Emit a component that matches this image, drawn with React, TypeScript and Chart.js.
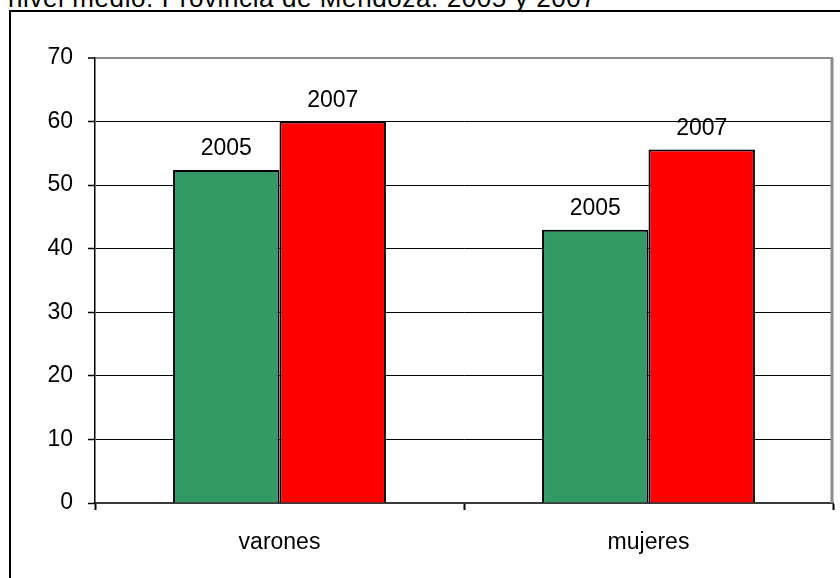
import React, { useEffect, useRef } from "react";
import { Chart, registerables } from "chart.js";

Chart.register(...registerables);

const categories = ["varones", "mujeres"];
const seriesLabels = ["2005", "2007"];
const values2005 = [52.4, 43.0];
const values2007 = [60.0, 55.6];
const yTicks = [0, 10, 20, 30, 40, 50, 60, 70];
const titleText = "nivel medio. Provincia de Mendoza. 2005 y 2007";

const FONT = '"Liberation Sans", Arial, sans-serif';

const barLabelPlugin = {
  id: "barLabels",
  afterDatasetsDraw(chart: any) {
    const ctx = chart.ctx;
    ctx.save();
    ctx.font = `23px ${FONT}`;
    ctx.fillStyle = "#000";
    ctx.textAlign = "center";
    ctx.textBaseline = "alphabetic";
    chart.data.datasets.forEach((ds: any, i: number) => {
      const meta = chart.getDatasetMeta(i);
      meta.data.forEach((bar: any) => {
        ctx.fillText(ds.label, bar.x, bar.y - 14.5);
      });
    });
    ctx.restore();
  },
};

const plotBorderPlugin = {
  id: "plotBorder",
  afterDraw(chart: any) {
    const { ctx, chartArea } = chart;
    ctx.save();
    ctx.strokeStyle = "#8c8c8c";
    ctx.lineWidth = 3;
    ctx.beginPath();
    ctx.moveTo(chartArea.right - 1, chartArea.top);
    ctx.lineTo(chartArea.right - 1, chartArea.bottom);
    ctx.stroke();
    ctx.restore();
  },
};

export default function App() {
  const ref = useRef<HTMLCanvasElement>(null);

  useEffect(() => {
    if (!ref.current) return;
    const chart = new Chart(ref.current, {
      type: "bar",
      data: {
        labels: categories,
        datasets: [
          {
            label: seriesLabels[0],
            data: values2005,
            backgroundColor: "#339966",
            borderColor: "#000",
            borderWidth: 2,
            categoryPercentage: 0.577,
            barPercentage: 1,
          },
          {
            label: seriesLabels[1],
            data: values2007,
            backgroundColor: "#ff0000",
            borderColor: "#000",
            borderWidth: 2,
            categoryPercentage: 0.577,
            barPercentage: 1,
          },
        ],
      },
      options: {
        responsive: false,
        animation: false,
        layout: { padding: { left: 0, top: 58, right: 7, bottom: 0 } },
        plugins: {
          legend: { display: false },
          tooltip: { enabled: false },
          title: { display: false },
        },
        scales: {
          x: {
            offset: true,
            grid: {
              offset: true,
              drawOnChartArea: false,
              drawTicks: true,
              tickLength: 7,
              tickColor: "#000",
              tickWidth: 2,
            },
            border: { display: true, color: "#3a3a3a", width: 2 },
            ticks: {
              color: "#000",
              font: { family: FONT, size: 23 },
              padding: 19,
            },
            afterFit(scale: any) {
              scale.height = 75;
            },
          },
          y: {
            min: 0,
            max: 70,
            afterBuildTicks(scale: any) {
              scale.ticks = yTicks.map((v) => ({ value: v }));
            },
            grid: {
              color: (c: any) =>
                c.tick && c.tick.value === 70 ? "#8c8c8c" : "#000",
              lineWidth: (c: any) => (c.tick && c.tick.value === 70 ? 2 : 1),
              drawTicks: true,
              tickLength: 7,
              tickColor: "#000",
              tickWidth: 1.5,
            },
            border: { display: true, color: "#000", width: 1.5 },
            ticks: {
              color: "#000",
              font: { family: FONT, size: 23 },
              padding: 15,
            },
            afterFit(scale: any) {
              scale.width = 95;
            },
          },
        },
      },
      plugins: [barLabelPlugin, plotBorderPlugin],
    });
    return () => chart.destroy();
  }, []);

  return (
    <div
      style={{
        position: "fixed",
        left: 0,
        top: 0,
        width: 840,
        height: 578,
        overflow: "hidden",
        background: "#fff",
      }}
    >
      <div
        style={{
          position: "absolute",
          left: 8,
          top: -17,
          fontFamily: FONT,
          fontSize: 26,
          letterSpacing: 0.6,
          lineHeight: "normal",
          whiteSpace: "nowrap",
          color: "#000",
        }}
      >
        {titleText}
      </div>
      <div
        style={{
          position: "absolute",
          left: 9,
          top: 10,
          width: 1000,
          height: 1000,
          borderLeft: "2px solid #000",
          borderTop: "2px solid #000",
        }}
      />
      <canvas
        ref={ref}
        width={840}
        height={578}
        style={{ position: "absolute", left: 0, top: 0, display: "block" }}
      />
    </div>
  );
}
